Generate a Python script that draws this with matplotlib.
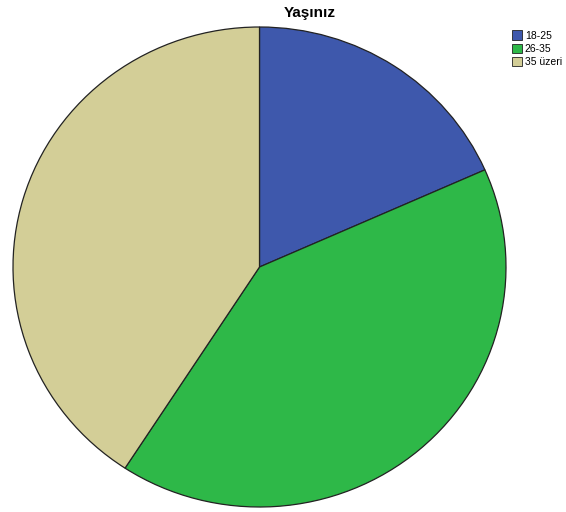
import matplotlib
matplotlib.use("Agg")
import matplotlib.pyplot as plt
from matplotlib.patches import Patch

categories = ["18-25", "26-35", "35 üzeri"]
values = [9, 20, 20]
colors = ["#3E58AC", "#2EB848", "#D3CE97"]
title = "Yaşınız"

W, H = 566, 512
fig = plt.figure(figsize=(W / 100, H / 100), dpi=100)
fig.patch.set_facecolor("white")

left, right, top, bottom = 13, 506, 27, 507
ax = fig.add_axes([left / W, (H - bottom) / H, (right - left) / W, (bottom - top) / H])
ax.pie(values, colors=colors, startangle=90, counterclock=False,
       wedgeprops=dict(edgecolor="#222222", linewidth=0.9))
ax.set_aspect("auto")
ax.set_xlim(-1.0, 1.0)
ax.set_ylim(-1.0, 1.0)
ax.axis("off")

fig.text(310 / W, 1 - 13 / H, title, ha="center", va="center",
         fontsize=11, fontweight="bold", family="Liberation Sans")

handles = [Patch(facecolor=c, edgecolor="#222222", linewidth=0.6) for c in colors]
fig.legend(handles, categories, loc="upper left", bbox_to_anchor=(505 / W, 1 - 23 / H),
           frameon=False, handlelength=0.9, handleheight=1.0,
           handletextpad=0.3, labelspacing=0.3, borderpad=0.2,
           prop={"family": "Liberation Sans", "size": 7.5})

fig.savefig("out.png", dpi=100)
